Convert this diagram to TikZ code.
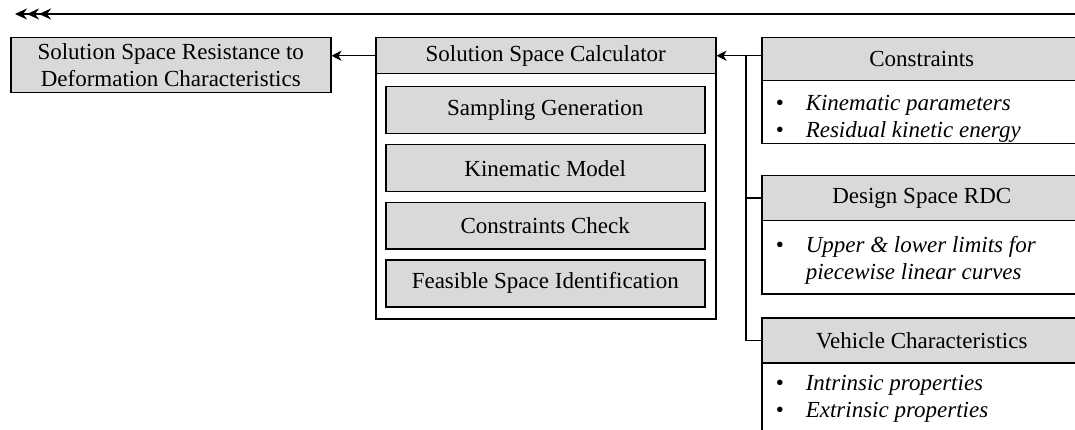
\documentclass[tikz,border=0pt]{standalone}
\usepackage{fontspec}
\setmainfont{Liberation Serif}
\usetikzlibrary{arrows.meta}
\definecolor{boxgray}{RGB}{217,217,217}
\begin{document}
\begin{tikzpicture}[x=1pt,y=-1pt,line width=1.5pt,
  every node/.style={font=\fontsize{23}{27}\selectfont},
  box/.style={draw,fill=boxgray,inner sep=0pt,anchor=north west},
  frame/.style={draw,fill=white,inner sep=0pt,anchor=north west},
  items/.style={inner sep=0pt,anchor=north west,font=\fontsize{23}{27}\selectfont\itshape},
  tip/.style={-{Stealth[length=10pt,width=10pt,inset=3pt]}},
  feedtip/.style={{Stealth[length=12pt,width=11pt,inset=4pt,sep=0pt]Stealth[length=12pt,width=11pt,inset=4pt,sep=0pt]Stealth[length=12pt,width=11pt,inset=4pt]}-}]
\useasboundingbox (0,0) rectangle (1075,430);
\clip (0,0) rectangle (1075,430);

% feedback line along the top
\coordinate (feedR) at (1075,14);
\coordinate (feedL) at (15,14);
\coordinate (feedK) at (112,14);
\draw[feedtip] (feedL) -- (feedR);
\draw[line width=2.4pt] (feedL) ++(14,0) -- (feedK);

% result
\node[box,minimum width=320pt,minimum height=55pt,align=center] (result) at (10,37)
  {Solution Space Resistance to\\Deformation Characteristics};

% calculator with its stages
\node[frame,minimum width=340pt,minimum height=281pt] (calcframe) at (375,37) {};
\node[box,minimum width=340pt,minimum height=36pt] (calc) at (375,37) {Solution Space Calculator};
\node[box,minimum width=319pt,minimum height=47pt] (sampling) at (385,86) {Sampling Generation};
\node[box,minimum width=319pt,minimum height=47pt] (kinematic) at (385,144) {Kinematic Model};
\node[box,minimum width=319pt,minimum height=46pt] (check) at (385,202) {Constraints Check};
\node[box,minimum width=319pt,minimum height=47pt] (feasible) at (385,259) {Feasible Space Identification};

% inputs
\node[frame,minimum width=320pt,minimum height=63pt] (consbody) at (761,80) {};
\node[box,minimum width=320pt,minimum height=43pt] (cons) at (761,37) {Constraints};
\node[items] (consitems) at (775,91) {\begin{tabular}{@{}p{30pt}@{}l@{}}
  \upshape\textbullet & Kinematic parameters\\
  \upshape\textbullet & Residual kinetic energy\end{tabular}};

\node[frame,minimum width=320pt,minimum height=73pt] (rdcbody) at (761,220) {};
\node[box,minimum width=320pt,minimum height=45pt] (rdc) at (761,175) {Design Space RDC};
\node[items] (rdcitems) at (775,233) {\begin{tabular}{@{}p{30pt}@{}l@{}}
  \upshape\textbullet & Upper \& lower limits for\\
  & piecewise linear curves\end{tabular}};

\node[frame,minimum width=320pt,minimum height=90pt] (vehbody) at (761,362) {};
\node[box,minimum width=320pt,minimum height=45pt] (veh) at (761,317) {Vehicle Characteristics};
\node[items] (vehitems) at (775,371) {\begin{tabular}{@{}p{30pt}@{}l@{}}
  \upshape\textbullet & Intrinsic properties\\
  \upshape\textbullet & Extrinsic properties\end{tabular}};

% connectors
\draw[tip] (calc.west) -- (calc.west -| result.east);
\draw[tip] (cons.west |- calc.east) -- (calc.east);
\coordinate (bus) at (746,55);
\draw (bus) |- (veh.west);
\draw (bus |- rdc.west) -- (rdc.west);
\end{tikzpicture}
\end{document}
